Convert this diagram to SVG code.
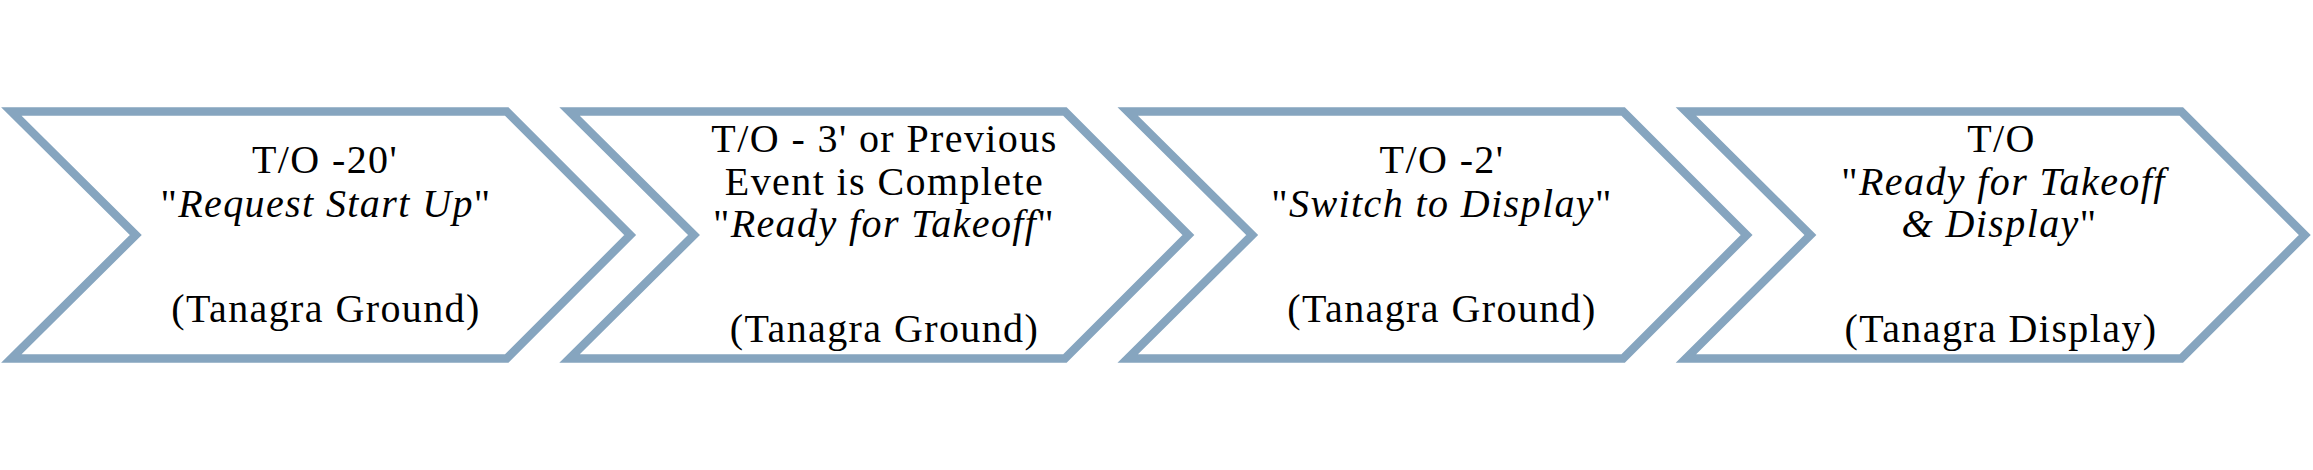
<svg xmlns="http://www.w3.org/2000/svg" width="2313" height="470" viewBox="0 0 2313 470">
<defs>
<style>
.chev{fill:#ffffff;stroke:#86A5BF;stroke-width:8.4;stroke-linejoin:miter;stroke-miterlimit:10}
.t{font-family:"Liberation Serif","Times New Roman",serif;font-size:40px;letter-spacing:1.4px;fill:#000000;text-anchor:middle}
.i{font-style:italic}
</style>
<path id="chevShape" d="M11.3,111.5 L506.7,111.5 L630.2,235 L506.7,358.5 L11.3,358.5 L135.8,235 Z"/>
</defs>
<rect width="2313" height="470" fill="#ffffff"/>
<g id="connectors"></g>
<g id="node1">
<use href="#chevShape" class="chev"/>
<text class="t" x="325" y="173">T/O -20'</text>
<text class="t" x="326" y="217">"<tspan class="i">Request Start Up</tspan>"</text>
<text class="t" x="326" y="322">(Tanagra Ground)</text>
</g>
<g id="node2">
<use href="#chevShape" class="chev" transform="translate(558.2,0)"/>
<text class="t" x="884.5" y="151.5">T/O - 3' or Previous</text>
<text class="t" x="884.5" y="195">Event is Complete</text>
<text class="t" x="884" y="237">"<tspan class="i">Ready for Takeoff</tspan>"</text>
<text class="t" x="884.5" y="342">(Tanagra Ground)</text>
</g>
<g id="node3">
<use href="#chevShape" class="chev" transform="translate(1116.4,0)"/>
<text class="t" x="1442" y="173">T/O -2'</text>
<text class="t" x="1442" y="217">"<tspan class="i">Switch to Display</tspan>"</text>
<text class="t" x="1442" y="322">(Tanagra Ground)</text>
</g>
<g id="node4">
<use href="#chevShape" class="chev" transform="translate(1674.6,0)"/>
<text class="t" x="2001.5" y="151.5">T/O</text>
<text class="t" x="2003.5" y="195">"<tspan class="i">Ready for Takeoff</tspan></text>
<text class="t" x="1999.5" y="237"><tspan class="i">&amp; Display</tspan>"</text>
<text class="t" x="2001" y="342">(Tanagra Display)</text>
</g>
</svg>
